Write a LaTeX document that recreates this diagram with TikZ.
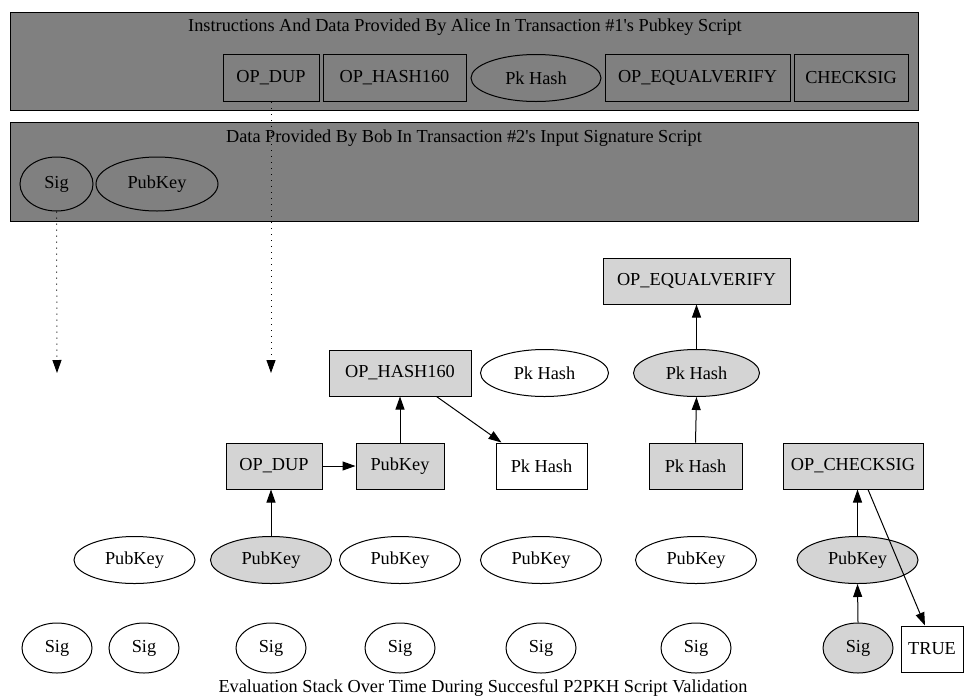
\documentclass[tikz,border=0pt]{standalone}
\usepackage{fontspec}
\setmainfont{Liberation Serif}[Ligatures=TeXOff]
\usetikzlibrary{arrows.meta,shapes.geometric}
\begin{document}
\begin{tikzpicture}[x=1pt,y=-1pt,
  every node/.style={font=\fontsize{18.3}{21}\selectfont, inner sep=0pt, line width=1pt},
  bx/.style={draw, rectangle, minimum height=46pt},
  el/.style={draw, ellipse, minimum height=47pt},
  grayfill/.style={fill=black!17},
  topfill/.style={fill=black!50},
  cluster/.style={draw, line width=1pt, fill=black!50},
  arr/.style={line width=1pt, -{Triangle[length=13pt,width=9pt]}},
  dots/.style={line width=1pt, dash pattern=on 1pt off 5pt, -{Triangle[length=13pt,width=9pt,line width=1pt]}}
]
\useasboundingbox (0,0) rectangle (968,699);
% clusters
\draw[cluster] (10,12) rectangle (918,110);
\node (t1) at (465,27) {Instructions And Data Provided By Alice In Transaction \#1's Pubkey Script};
\draw[cluster] (10,122) rectangle (918,221);
\node (t2) at (464,138) {Data Provided By Bob In Transaction \#2's Input Signature Script};
% top row
\node[bx,topfill,minimum width=96pt,minimum height=47pt] (tdup) at (271,78) {OP\_DUP};
\node[bx,topfill,minimum width=143pt,minimum height=47pt] (thash) at (394.5,78) {OP\_HASH160};
\node[el,topfill,minimum width=130pt] (tpk) at (536,78) {Pk Hash};
\node[bx,topfill,minimum width=185pt,minimum height=47pt] (teq) at (697.5,78) {OP\_EQUALVERIFY};
\node[bx,topfill,minimum width=114pt,minimum height=47pt] (tcs) at (851,78) {CHECKSIG};
\node[el,topfill,minimum width=73pt,minimum height=54pt] (tsig) at (56.5,184) {Sig};
\node[el,topfill,minimum width=122pt,minimum height=54pt] (tpub) at (157,184) {PubKey};
% dotted arrows
\coordinate (d1) at (57,373);
\coordinate (d2) at (271,373);
\draw[dots] (tsig.south) -- (d1);
\draw[dots] (tdup.south) -- (d2);
% bottom row sigs
\node[el,minimum width=70pt,minimum height=50pt] (s1) at (57,648) {Sig};
\node[el,minimum width=70pt,minimum height=50pt] (s2) at (144,648) {Sig};
\node[el,minimum width=70pt,minimum height=50pt] (s3) at (271,648) {Sig};
\node[el,minimum width=70pt,minimum height=50pt] (s4) at (400,648) {Sig};
\node[el,minimum width=70pt,minimum height=50pt] (s5) at (541,648) {Sig};
\node[el,minimum width=70pt,minimum height=50pt] (s6) at (696,648) {Sig};
\node[el,grayfill,minimum width=70pt,minimum height=50pt] (s7) at (858,648) {Sig};
\node[bx,minimum width=62pt] (true) at (932,649) {TRUE};
% pubkey row
\node[el,minimum width=121pt] (p2) at (134.5,560) {PubKey};
\node[el,grayfill,minimum width=121pt] (p3) at (271,560) {PubKey};
\node[el,minimum width=121pt] (p4) at (400,560) {PubKey};
\node[el,minimum width=121pt] (p5) at (541,560) {PubKey};
\node[el,minimum width=121pt] (p6) at (696,560) {PubKey};
\node[el,grayfill,minimum width=121pt] (p7) at (857.5,560) {PubKey};
% row 466
\node[bx,grayfill,minimum width=96pt] (dup) at (274,466) {OP\_DUP};
\node[bx,grayfill,minimum width=88pt] (pubb) at (400,466) {PubKey};
\node[bx,minimum width=91pt] (pkw) at (541.5,466) {Pk Hash};
\node[bx,grayfill,minimum width=93pt] (pkg) at (695.5,466) {Pk Hash};
\node[bx,grayfill,minimum width=140pt] (cs) at (853,466) {OP\_CHECKSIG};
% row 373
\node[bx,grayfill,minimum width=142pt] (hash) at (400,373) {OP\_HASH160};
\node[el,minimum width=128pt] (pkew) at (544.5,373) {Pk Hash};
\node[el,grayfill,minimum width=126pt] (pkeg) at (696.5,373) {Pk Hash};
% row 281
\node[bx,grayfill,minimum width=187pt] (eq) at (696.5,281) {OP\_EQUALVERIFY};
% arrows
\draw[arr] (p3.north) -- (dup.south -| p3.north);
\draw[arr] (dup.east) -- (pubb.west);
\draw[arr] (pubb.north) -- (hash.south -| pubb.north);
\draw[arr] ([xshift=-35pt]hash.south east) -- ([xshift=-40pt]pkw.north);
\draw[arr] (pkg.north) -- (pkeg.south);
\draw[arr] (pkeg.north) -- (eq.south);
\draw[arr] (s7.north) -- (p7.south);
\draw[arr] (p7.north) -- (cs.south -| p7.north);
\draw[arr] ([xshift=15pt]cs.south) -- ([xshift=-7pt]true.north);
% caption
\node (cap) at (483,688) {Evaluation Stack Over Time During Succesful P2PKH Script Validation};
\end{tikzpicture}
\end{document}
